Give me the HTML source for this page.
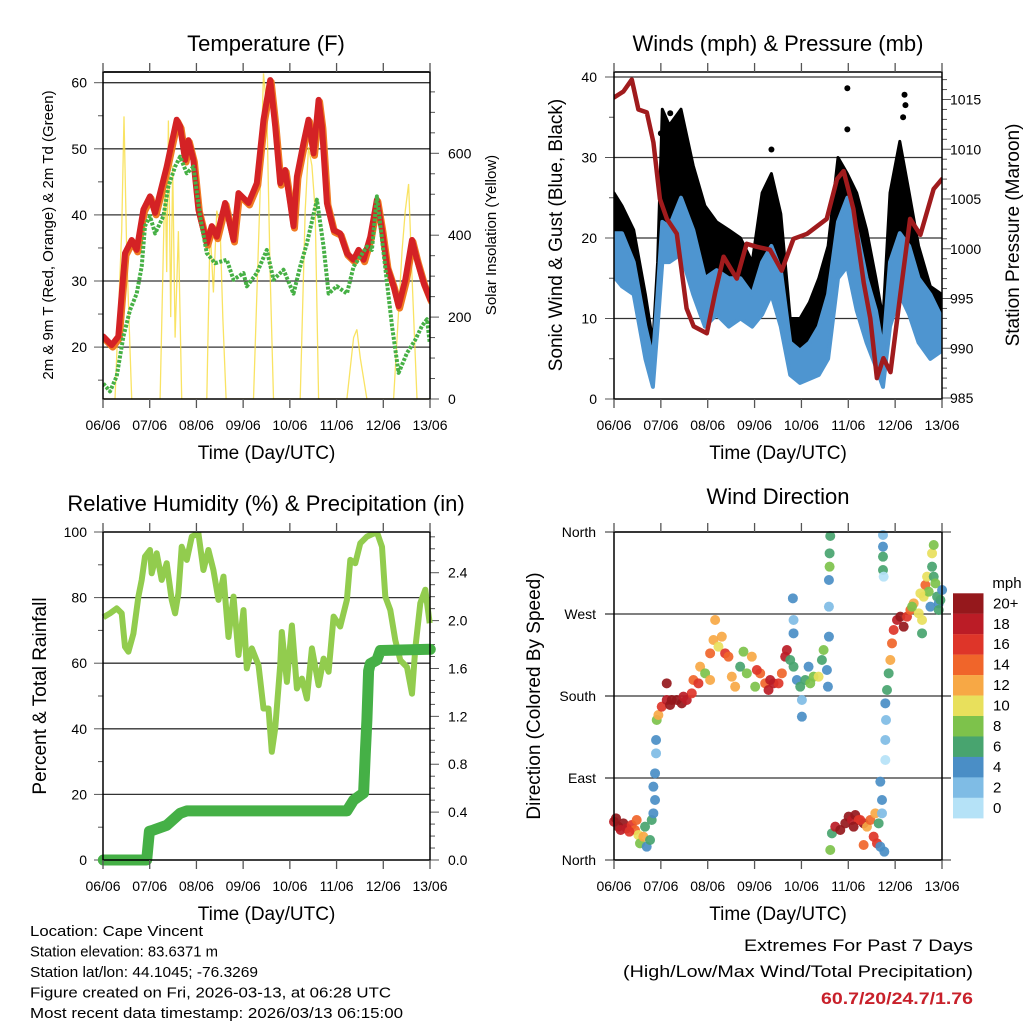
<!DOCTYPE html>
<html><head><meta charset="utf-8"><style>
html,body{margin:0;padding:0;background:#fff}
svg{display:block;font-family:"Liberation Sans",Arial,sans-serif}
</style></head><body>
<svg id="c" width="1024" height="1024" viewBox="0 0 1024 1024" xmlns="http://www.w3.org/2000/svg">
<rect width="1024" height="1024" fill="#fff"/>
</svg>
<script>
// ===== DATA (time in days since 06/06 00 UTC) =====
const dayLabels=["06/06","07/06","08/06","09/06","10/06","11/06","12/06","13/06"];
// Temperature panel (zoom x -> day via (zx-9)/140)
const redX=[10,35,55,75,95,110,130,150,165,185,200,215,230,240,255,265,280,295,320,335,350,375,400,415,445,470,490,510,525,540,555,570,580,590,610,625,640,655,665,680,700,720,740,760,775,790,810,830,845,860,880,895,915,935,950,970,990];
const redT=[21.6,20.3,21.6,34.2,36.2,34.7,40.8,42.8,40.3,44.3,47.3,50.9,54.4,53.4,48.3,51.3,48.3,40.8,35.7,38.3,36.7,41.8,36.2,43.3,41.8,44.8,54.4,60.4,53.4,44.8,46.8,41.8,38.3,45.8,50.9,54.4,49.3,57.4,53.4,41.8,37.7,37.2,34.2,33.2,34.7,33.2,36.7,42.3,37.7,32.2,29.2,26.2,30.2,36.2,33.2,29.7,27.2];
const grnX=[10,30,50,70,90,110,125,135,150,165,190,205,225,240,260,280,300,320,345,380,400,430,440,470,500,520,550,580,600,620,650,670,685,710,740,760,800,815,830,850,875,895,920,945,965,980,988];
const grnTd=[14.5,13.3,15.6,21.6,25.6,28.1,32.2,38.3,39.8,37.2,39.8,44.3,47.3,48.8,46.3,47.3,39.8,34.2,32.7,33.2,30.2,31.2,29.2,31.2,34.7,30.2,31.7,28.1,32.2,35.7,42.3,35.2,28.1,29.2,28.1,32.2,35.2,34.7,42.8,34.2,23.2,16.1,19.1,21.1,23.2,24.2,20.7];
const solX=[9,45,65,72,80,95,180,195,200,205,212,218,225,235,245,320,330,340,350,360,368,378,460,480,490,500,510,520,600,615,625,635,645,655,740,760,770,780,800,880,905,915,925,935,950,990];
const solV=[0,0,410,690,360,0,0,560,310,680,200,570,150,410,0,0,420,260,460,420,200,0,0,510,795,710,300,0,0,460,615,570,460,0,0,150,170,100,0,0,360,460,525,300,0,0];
// Winds panel
const presT=[0,0.2,0.38,0.52,0.7,0.84,0.98,1.13,1.34,1.55,1.7,1.98,2.16,2.34,2.62,2.83,3.05,3.33,3.58,3.83,4.12,4.54,4.76,4.9,5.11,5.33,5.47,5.61,5.75,5.9,6.11,6.32,6.54,6.82,7.0];
const presMb=[1015.2,1015.8,1017,1014,1013.7,1010.7,1005,1003,1001.5,994,992.2,991.5,995.6,999.2,997,1000.5,1000.2,999.9,997.8,1001,1001.5,1003,1007,1007.8,1004,996.6,993,987,989,987.6,995.4,1003,1001.4,1006,1007];
const windT=[0,0.17,0.42,0.67,0.83,0.93,1.03,1.18,1.43,1.69,1.94,2.19,2.45,2.7,2.95,3.16,3.36,3.56,3.76,3.97,4.17,4.37,4.57,4.78,4.98,5.18,5.39,5.59,5.74,5.89,6.1,6.3,6.5,6.75,7.0];
const windLo=[15.2,14,13,5,1.5,9,17,17,18,13,9,10.5,9,10,9,10.5,13,9,3,2,2.5,3,5,15,16.5,11,7,4,1.5,9,13,10.5,7,5,6];
const windHi=[20.6,20.6,17,9,5,13,22,21.4,25,21,15,16,15,15,13,17,19,16,7,6,7,9,13,22,25,21,15,11,6,17,20.6,19,15,13,10];
const gustHi=[25.6,24,21,13,7,17,36,34,36,29,24,22,21,20,17,25.6,28,23,10,10,12,15,19,30,28,25.6,21,15,10,25.6,32,25.6,19,14,13];
const gustOutT=[4.98,6.2,6.22,6.17,4.98,3.36,1.0,1.2];
const gustOutV=[38.6,37.8,36.5,35,33.5,31,33,35.5];
// RH & rain panel (zoom x -> day via (zx-9)/140)
const rhX=[10,30,50,65,75,85,100,115,125,135,150,155,170,185,200,215,225,235,245,260,275,295,310,325,340,355,370,385,400,415,430,440,455,475,490,505,515,525,540,545,560,575,590,605,620,635,655,670,685,700,720,740,750,765,780,800,830,845,855,870,885,900,920,935,945,960,975,988];
const rhV=[74,75.2,76.7,75.2,65,63.5,69,80.3,85.4,92.5,94.5,87.4,93.5,85.4,90.5,79.3,75.2,81.3,95.5,91.5,98.6,99.6,88.4,94.5,88.4,79.3,86.4,68,80.3,62.5,76.2,58.4,64.5,59.4,46.2,46.2,33,40.1,59.4,69.5,54.3,71.5,52.3,55.3,49.2,64.5,53.3,61.4,57.4,74.2,71.2,79.3,91.5,90.5,96.6,98.6,100,95.5,80.3,76.2,67,60.9,58.8,50.7,64.5,78.3,82.4,72.2];
const rainX=[10,140,148,160,200,240,260,740,760,790,795,800,805,810,830,840,990];
const rainIn=[0,0,0.24,0.25,0.29,0.39,0.41,0.41,0.5,0.56,0.89,1.17,1.58,1.64,1.67,1.75,1.76];
// Wind direction (zoom x -> day via (zx-42)/140.4 ; zoom y -> deg)
const dirX=[42,55,70,80,95,105,115,120,130,135,140,150,155,160,165,160,165,168,168,170,175,185,200,200,215,230,245,260,275,280,295,300,315,330,340,345,355,365,375,385,395,405,420,430,440,455,465,480,495,505,520,535,545,555,560,570,580,590,600,605,605,615,625,640,655,665,670,680,683,686,686,686,688,688,690,578,580,580,690,695,705,720,735,745,755,765,775,790,790,800,810,820,825,830,835,840,845,845,840,852,848,848,848,848,850,855,857,855,855,860,865,870,875,880,890,900,910,920,930,940,955,965,965,970,975,980,985,990,995,995,1000,1005,1010,1015,1020,1025,1000,1015,48,62,88,110,210,250,330,470,510,630,760,780,935,960];
const dirY=[905,920,910,925,915,930,945,970,950,920,980,960,900,880,840,800,760,700,660,600,585,560,540,490,540,540,550,540,520,480,490,440,460,400,360,300,380,350,400,410,470,500,440,395,460,410,500,460,490,510,490,490,460,410,390,420,440,480,500,540,590,480,440,470,470,420,390,450,500,350,260,180,140,100,48,235,300,340,990,940,920,930,910,890,900,885,900,910,975,920,900,950,880,970,910,980,880,840,785,995,45,80,110,150,170,550,600,660,720,510,460,420,370,330,300,290,320,290,270,250,280,300,340,230,195,170,215,260,140,100,170,190,230,250,240,210,75,270,895,930,935,900,555,530,480,450,480,490,920,900,260,220];
const dirSpd=[18,20,20,18,16,14,10,8,12,6,4,6,6,4,4,4,4,2,4,8,12,16,18,20,20,20,20,18,16,14,16,12,8,14,12,12,10,12,16,14,12,12,6,8,8,12,8,14,14,18,18,16,14,18,18,6,6,4,6,2,4,6,4,8,10,6,8,4,4,4,2,4,8,6,6,4,2,4,8,6,18,20,20,20,18,20,16,20,14,12,14,16,12,16,6,4,2,4,4,4,2,4,6,6,0,4,2,2,0,6,6,12,14,16,18,20,20,16,14,12,10,10,6,10,14,10,8,4,6,10,6,8,6,4,6,4,8,6,20,18,16,14,20,18,12,16,18,8,20,16,8,10];
const spdLabels=["20+","18","16","14","12","10","8","6","4","2","0"];
const spdColors=["#95181c","#bb1c26","#de3529","#f0652a","#f7a845","#e8e05c","#7dc24b","#48a46f","#4a8ec6","#7fbce5","#b5e2f7"];

// ===== helpers =====
const NS="http://www.w3.org/2000/svg";
const svg=document.getElementById('c');
function mk(tag,attrs,parent){const e=document.createElementNS(NS,tag);for(const k in attrs)e.setAttribute(k,attrs[k]);(parent||svg).appendChild(e);return e;}
function txt(s,x,y,size,anchor,parent,extra){const e=mk('text',Object.assign({x:x,y:y,'font-size':size,'text-anchor':anchor||'middle',fill:'#000'},extra||{}),parent);e.textContent=s;return e;}
function grp(name){const g=mk('g',{});return g;}
function panelFrame(g,x0,x1,y0,y1){
  mk('rect',{x:x0,y:y0,width:x1-x0,height:y1-y0,fill:'none',stroke:'#000','stroke-width':1.5},g);
  for(let d=0;d<=7;d++){const x=x0+(x1-x0)*d/7;
    mk('line',{x1:x,x2:x,y1:y1,y2:y1+9,stroke:'#555','stroke-width':1.3},g);
    mk('line',{x1:x,x2:x,y1:y0,y2:y0-9,stroke:'#555','stroke-width':1.3},g);
    const t=txt(dayLabels[d],x,y1+31,14,'middle',g);
    
  }
  const tt=txt('Time (Day/UTC)',(x0+x1)/2,y1+60,19,'middle',g);
  
}
function pathFrom(xs,ys){return xs.map((x,i)=>(i?'L':'M')+x.toFixed(1)+','+ys[i].toFixed(1)).join('');}

// ===== Panel 1: Temperature =====
{
  const g=grp('temperature-panel');
  const X0=103,X1=430,Y0=72,Y1=399;
  const xd=d=>X0+(X1-X0)*d/7, zxT=zx=>(zx-9)/140;
  const yT=v=>82.7+(60-v)*6.61, yS=v=>399-v*0.4095;
  [20,30,40,50,60].forEach(v=>mk('line',{x1:X0,x2:X1,y1:yT(v),y2:yT(v),stroke:'#333','stroke-width':1.3},g));
  for(let v=15;v<=60;v+=5){mk('line',{x1:X0-(v%10?5:9),x2:X0,y1:yT(v),y2:yT(v),stroke:'#555'},g);}
  [20,30,40,50,60].forEach(v=>{const t=txt(String(v),87,yT(v)+5,14,'end',g);});
  for(let v=0;v<=780;v+=50){mk('line',{x1:X1,x2:X1+(v%200?5:9),y1:yS(v),y2:yS(v),stroke:'#555'},g);}
  [0,200,400,600].forEach(v=>{const t=txt(String(v),448,yS(v)+5,14,'start',g);});
  const cp=mk('clipPath',{id:'cp1'},g);mk('rect',{x:X0,y:Y0,width:X1-X0,height:Y1-Y0},cp);
  const sol=mk('path',{d:pathFrom(solX.map(z=>xd(zxT(z))),solV.map(yS)),fill:'none',stroke:'#f7dc3c','stroke-width':1.3,'stroke-opacity':0.8,'clip-path':'url(#cp1)'},g);
  
  const org=mk('path',{d:pathFrom(redX.map(z=>xd(zxT(z))+1),redT.map(v=>yT(v)+2)),fill:'none',stroke:'#f07a22','stroke-width':7,'stroke-linejoin':'round','stroke-linecap':'round','clip-path':'url(#cp1)'},g);
  
  const red=mk('path',{d:pathFrom(redX.map(z=>xd(zxT(z))),redT.map(yT)),fill:'none',stroke:'#d42225','stroke-width':6,'stroke-linejoin':'round','stroke-linecap':'round','clip-path':'url(#cp1)'},g);
  
  const gr=mk('path',{d:pathFrom(grnX.map(z=>xd(zxT(z))),grnTd.map(yT)),fill:'none',stroke:'#46b045','stroke-width':4,'stroke-dasharray':'3 1.5','stroke-linejoin':'round','clip-path':'url(#cp1)'},g);
  
  mk('line',{x1:X0,x2:X1,y1:Y0,y2:Y0,stroke:'#000','stroke-width':1.5},g);
  panelFrame(g,X0,X1,Y0,Y1);
  const t=txt('Temperature (F)',266,51,22,'middle',g);
  const yl=txt('2m & 9m T (Red, Orange) & 2m Td (Green)',0,0,15,'middle',g,{transform:'translate(53,235) rotate(-90)'});
  
  const yr=txt('Solar Insolation (Yellow)',0,0,15,'middle',g,{transform:'translate(496,235) rotate(-90)'});
  
}

// ===== Panel 2: Winds & Pressure =====
{
  const g=grp('winds-panel');
  const X0=614,X1=942,Y0=72,Y1=399;
  const xd=d=>X0+(X1-X0)*d/7;
  const yW=v=>399-v*8.05, yP=p=>398-(p-985)*9.95;
  [10,20,30,40].forEach(v=>mk('line',{x1:X0,x2:X1,y1:yW(v),y2:yW(v),stroke:'#333','stroke-width':1.3},g));
  for(let v=0;v<=40;v+=5){mk('line',{x1:X0-(v%10?5:9),x2:X0,y1:yW(v),y2:yW(v),stroke:'#555'},g);}
  [0,10,20,30,40].forEach(v=>{const t=txt(String(v),597,yW(v)+5,14,'end',g);});
  for(let p=985;p<=1017;p+=1){mk('line',{x1:X1,x2:X1+(p%5?5:9),y1:yP(p),y2:yP(p),stroke:'#555'},g);}
  [985,990,995,1000,1005,1010,1015].forEach(p=>{const t=txt(String(p),950,yP(p)+5,14,'start',g);});
  const cp=mk('clipPath',{id:'cp2'},g);mk('rect',{x:X0,y:Y0,width:X1-X0,height:Y1-Y0},cp);
  const xs=windT.map(xd);
  const gust=mk('path',{d:pathFrom(xs,gustHi.map(yW))+pathFrom(xs.slice().reverse(),windHi.slice().reverse().map(yW)).replace('M','L')+'Z',fill:'#000',stroke:'#000','stroke-width':3,'stroke-linejoin':'round','clip-path':'url(#cp2)'},g);
  
  gustOutT.forEach((t,i)=>{const c=mk('circle',{cx:xd(t),cy:yW(gustOutV[i]),r:3,fill:'#000'},g);
    });
  const wind=mk('path',{d:pathFrom(xs,windHi.map(yW))+pathFrom(xs.slice().reverse(),windLo.slice().reverse().map(yW)).replace('M','L')+'Z',fill:'#4e95d0',stroke:'#4e95d0','stroke-width':4,'stroke-linejoin':'round','clip-path':'url(#cp2)'},g);
  
  const pr=mk('path',{d:pathFrom(presT.map(xd),presMb.map(yP)),fill:'none',stroke:'#a01b1d','stroke-width':4.5,'stroke-linejoin':'round','stroke-linecap':'round','clip-path':'url(#cp2)'},g);
  
  panelFrame(g,X0,X1,Y0,Y1);
  const t=txt('Winds (mph) & Pressure (mb)',778,51,22,'middle',g);
  const yl=txt('Sonic Wind & Gust (Blue, Black)',0,0,19,'middle',g,{transform:'translate(562,235) rotate(-90)'});
  
  const yr=txt('Station Pressure (Maroon)',0,0,19,'middle',g,{transform:'translate(1019,235) rotate(-90)'});
  
}

// ===== Panel 3: RH & Precip =====
{
  const g=grp('humidity-panel');
  const X0=103,X1=430,Y0=532,Y1=860;
  const xd=d=>X0+(X1-X0)*d/7, zxT=zx=>(zx-9)/140;
  const yR=v=>860-v*3.28, yI=r=>860-r*119.7;
  [20,40,60,80].forEach(v=>mk('line',{x1:X0,x2:X1,y1:yR(v),y2:yR(v),stroke:'#333','stroke-width':1.3},g));
  for(let v=0;v<=100;v+=10){mk('line',{x1:X0-(v%20?5:9),x2:X0,y1:yR(v),y2:yR(v),stroke:'#555'},g);}
  [0,20,40,60,80,100].forEach(v=>{const t=txt(String(v),87,yR(v)+5,14,'end',g);});
  for(let i=0;i<=27;i++){const r=i*0.1;mk('line',{x1:X1,x2:X1+(i%4?5:9),y1:yI(r),y2:yI(r),stroke:'#555'},g);}
  ['0.0','0.4','0.8','1.2','1.6','2.0','2.4'].forEach(s=>{const t=txt(s,448,yI(parseFloat(s))+5,14,'start',g);});
  const cp=mk('clipPath',{id:'cp3'},g);mk('rect',{x:X0-6,y:Y0,width:X1-X0+12,height:Y1-Y0+6},cp);
  const rh=mk('path',{d:pathFrom(rhX.map(z=>xd(zxT(z))),rhV.map(yR)),fill:'none',stroke:'#92cc4e','stroke-width':6,'stroke-linejoin':'round','clip-path':'url(#cp3)'},g);
  
  const rn=mk('path',{d:pathFrom(rainX.map(z=>xd(zxT(z))),rainIn.map(yI)),fill:'none',stroke:'#45b046','stroke-width':11,'stroke-linejoin':'round','stroke-linecap':'round','clip-path':'url(#cp3)'},g);
  
  panelFrame(g,X0,X1,Y0,Y1);
  const t=txt('Relative Humidity (%) & Precipitation (in)',266,511,22,'middle',g);
  const yl=txt('Percent & Total Rainfall',0,0,19,'middle',g,{transform:'translate(46,696) rotate(-90)'});
  
}

// ===== Panel 4: Wind direction =====
{
  const g=grp('wind-direction-panel');
  const X0=614,X1=942,Y0=532,Y1=860;
  const xd=d=>X0+(X1-X0)*d/7, zxT=zx=>(zx-42)/140.4;
  const yD=deg=>860-deg/360*328, zyDeg=zy=>(340-zy/3)*1.0976;
  const names=['North','East','South','West','North'];
  [90,180,270].forEach(v=>mk('line',{x1:X0-9,x2:X1+9,y1:yD(v),y2:yD(v),stroke:'#333','stroke-width':1.3},g));
  [0,360].forEach(v=>mk('line',{x1:X0-9,x2:X1+9,y1:yD(v),y2:yD(v),stroke:'#555','stroke-width':1.3},g));
  names.forEach((s,i)=>{const t=txt(s,596,yD(i*90)+5,14,'end',g);});
  dirX.forEach((z,i)=>{
    const ci=Math.min(10,Math.max(0,Math.round((20-dirSpd[i])/2)));
    const c=mk('circle',{cx:xd(zxT(z)),cy:yD(zyDeg(dirY[i])),r:5,fill:spdColors[ci],'fill-opacity':0.92},g);
    
    
  });
  panelFrame(g,X0,X1,Y0,Y1);
  const t=txt('Wind Direction',778,504,22,'middle',g);
  const yl=txt('Direction (Colored By Speed)',0,0,19,'middle',g,{transform:'translate(540,696) rotate(-90)'});
  
  const cb=grp('speed-colorbar');
  const m=txt('mph',1007,588,15,'middle',cb);
  spdColors.forEach((col,i)=>{
    const r=mk('rect',{x:953,y:593.3+i*20.45,width:30.5,height:20.6,fill:col},cb);
    
    const l=txt(spdLabels[i],993,593.3+i*20.45+15,15,'start',cb);
    
  });
}

// ===== Footer text =====
{
  const g=grp('station-info');
  ['Location: Cape Vincent','Station elevation: 83.6371 m','Station lat/lon: 44.1045; -76.3269','Figure created on Fri, 2026-03-13, at 06:28 UTC','Most recent data timestamp: 2026/03/13 06:15:00']
  .forEach((s,i)=>{const t=txt(s,30,936+i*20.5,14.5,'start',g,{textLength:[173,188,228,361,373][i],lengthAdjust:'spacingAndGlyphs'});});
  const e=grp('extremes');
  const a=txt('Extremes For Past 7 Days',973,951,17,'end',e,{textLength:229,lengthAdjust:'spacingAndGlyphs'});
  const b=txt('(High/Low/Max Wind/Total Precipitation)',973,977,17,'end',e,{textLength:350,lengthAdjust:'spacingAndGlyphs'});
  const c=txt('60.7/20/24.7/1.76',973,1004,17,'end',e,{fill:'#c8202a','font-weight':'bold',textLength:152,lengthAdjust:'spacingAndGlyphs'});
}
</script>
</body></html>
